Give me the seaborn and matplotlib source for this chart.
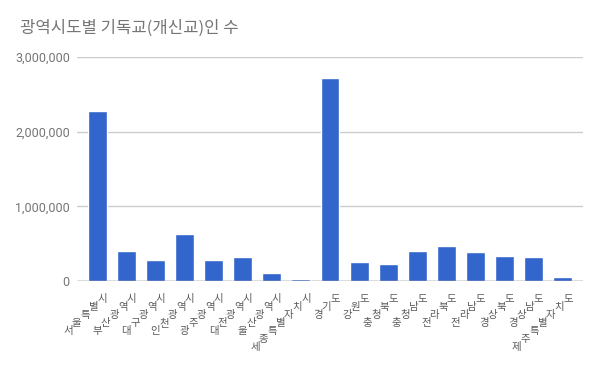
import matplotlib
matplotlib.use("Agg")
import matplotlib.pyplot as plt
import seaborn as sns
import pandas as pd
from matplotlib.ticker import FuncFormatter

regions = ["서울특별시", "부산광역시", "대구광역시", "인천광역시", "광주광역시", "대전광역시",
           "울산광역시", "세종특별자치시", "경기도", "강원도", "충청북도", "충청남도",
           "전라북도", "전라남도", "경상북도", "경상남도", "제주특별자치도"]
believers = [2280000, 400000, 280000, 630000, 280000, 320000,
             110000, 32000, 2720000, 250000, 230000, 400000,
             470000, 390000, 340000, 320000, 55000]
title = "광역시도별 기독교(개신교)인 수"

sns.set_theme(style="white")
plt.rcParams['font.family'] = ['Noto Sans CJK KR', 'DejaVu Sans']

df = pd.DataFrame({"region": regions, "value": believers})

fig = plt.figure(figsize=(6.0, 3.71), dpi=100)
ax = fig.add_axes([0.128, 0.2426, 0.844, 0.6038])

sns.barplot(data=df, x="region", y="value", color="#3366CC", saturation=1,
            width=0.65, ax=ax, zorder=3)

ax.set_xlim(-0.7, len(regions) - 0.3)
ax.set_ylim(0, 3000000)
ax.set_yticks([0, 1000000, 2000000, 3000000])
ax.yaxis.set_major_formatter(FuncFormatter(lambda v, p: f"{int(v):,}"))
ax.grid(axis="y", color="#cccccc", linewidth=1, zorder=0)
ax.axhline(0, color="#333333", linewidth=0.9, zorder=4)
for s in ax.spines.values():
    s.set_visible(False)
ax.set_xlabel("")
ax.set_ylabel("")
ax.tick_params(axis="both", length=0)
ax.tick_params(axis="y", pad=5, labelsize=9, labelcolor="#757575")
for lab in ax.get_yticklabels():
    lab.set_family(['Roboto', 'DejaVu Sans'])

# category labels: upright glyphs stepped along a diagonal (as in the reference)
ax.set_xticks(range(len(regions)))
ax.set_xticklabels([""] * len(regions))
px = 0.72  # points per pixel at 100 dpi
for i, name in enumerate(regions):
    n = len(name)
    for j, ch in enumerate(name):
        k = n - 1 - j
        ax.annotate(ch, xy=(i, 0), xycoords="data",
                    xytext=((5 - 8.5 * k) * px, -(18.5 + 8 * k) * px),
                    textcoords="offset points", ha="center", va="center",
                    fontsize=7.5, color="#5a5a5a", annotation_clip=False)

fig.text(20 / 600, 1 - 28 / 371, title, fontsize=12, color="#757575", va="center", ha="left")

fig.savefig("out.png", dpi=100)
